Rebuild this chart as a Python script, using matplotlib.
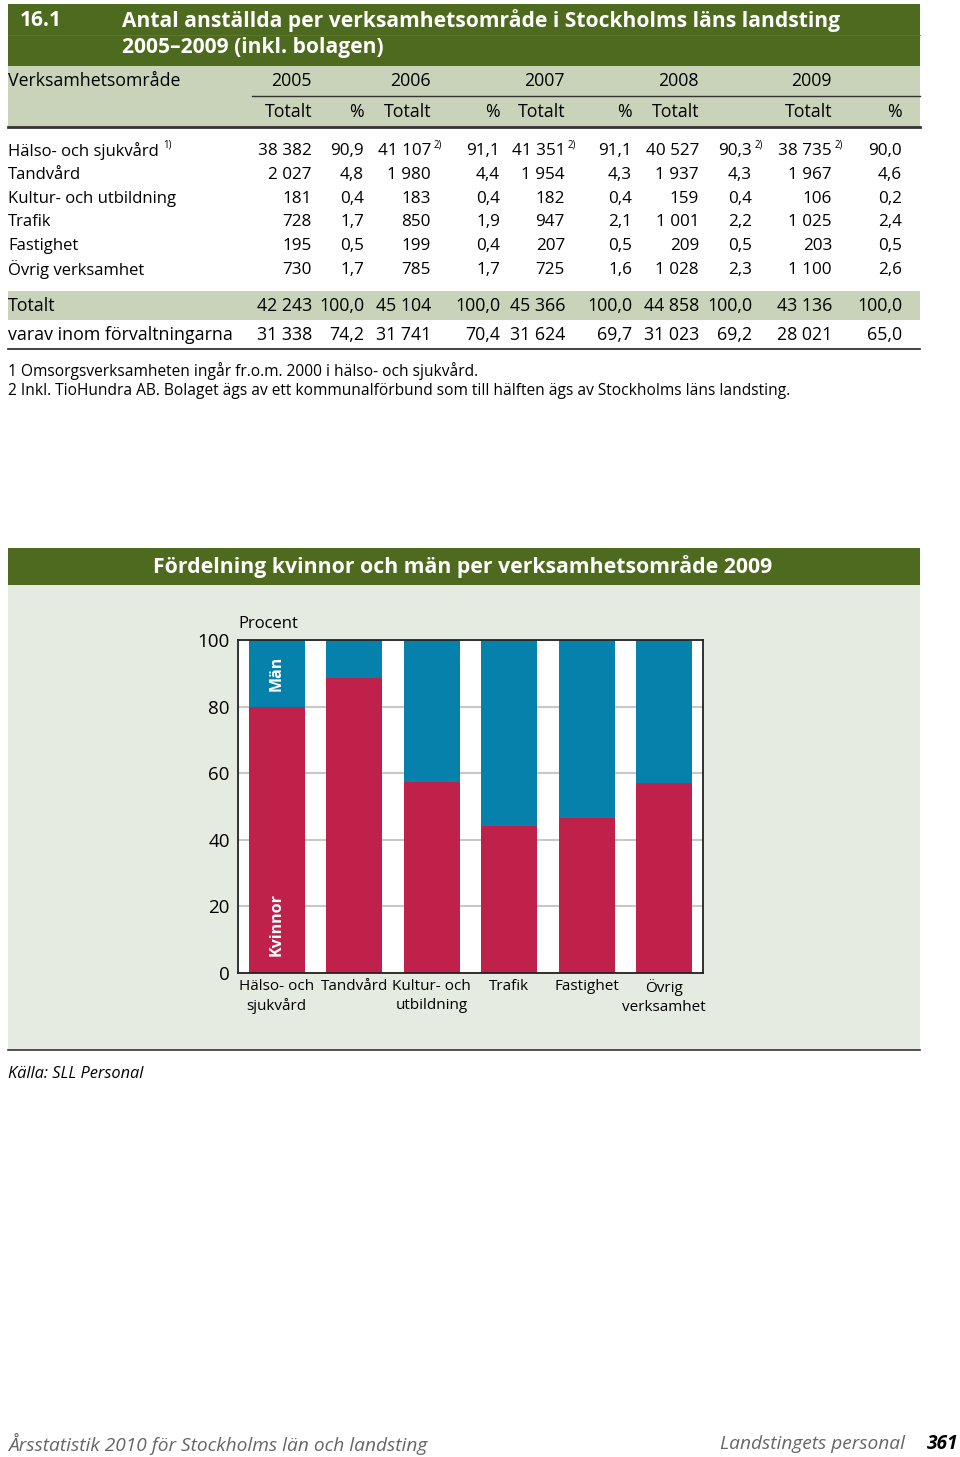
import numpy as np
import matplotlib
matplotlib.use("Agg")
import matplotlib.pyplot as plt
from matplotlib.patches import Rectangle
from matplotlib.lines import Line2D

# Table data
areas = ["Hälso- och sjukvård", "Tandvård", "Kultur- och utbildning",
         "Trafik", "Fastighet", "Övrig verksamhet"]
years = ["2005", "2006", "2007", "2008", "2009"]
tot_2005 = [38382, 2027, 181, 728, 195, 730]
pct_2005 = [90.9, 4.8, 0.4, 1.7, 0.5, 1.7]
tot_2006 = [41107, 1980, 183, 850, 199, 785]
pct_2006 = [91.1, 4.4, 0.4, 1.9, 0.4, 1.7]
tot_2007 = [41351, 1954, 182, 947, 207, 725]
pct_2007 = [91.1, 4.3, 0.4, 2.1, 0.5, 1.6]
tot_2008 = [40527, 1937, 159, 1001, 209, 1028]
pct_2008 = [90.3, 4.3, 0.4, 2.2, 0.5, 2.3]
tot_2009 = [38735, 1967, 106, 1025, 203, 1100]
pct_2009 = [90.0, 4.6, 0.2, 2.4, 0.5, 2.6]
totalt_tot = [42243, 45104, 45366, 44858, 43136]
totalt_pct = [100.0, 100.0, 100.0, 100.0, 100.0]
varav_tot = [31338, 31741, 31624, 31023, 28021]
varav_pct = [74.2, 70.4, 69.7, 69.2, 65.0]

# Chart data (share women, %)
chart_labels = ["Hälso- och\nsjukvård", "Tandvård", "Kultur- och\nutbildning",
                "Trafik", "Fastighet", "Övrig\nverksamhet"]
kvinnor = np.array([80.0, 88.5, 57.5, 44.0, 46.5, 57.0])
man = 100 - kvinnor

W, H = 960, 1457
DARK = "#4e6a1e"
LIGHT = "#c8d3b9"
PANEL = "#e6ebe2"
RED = "#c0214a"
BLUE = "#0581ab"
FONT = ["Open Sans", "DejaVu Sans"]
plt.rcParams["font.family"] = FONT

fig = plt.figure(figsize=(W / 100, H / 100), dpi=100)


def fx(x):
    return x / W


def fy(y):
    return 1 - y / H


def rect(x0, y0, x1, y1, color):
    fig.patches.append(Rectangle((fx(x0), fy(y1)), (x1 - x0) / W, (y1 - y0) / H,
                                 transform=fig.transFigure, color=color,
                                 zorder=-2, lw=0))


def hline(x0, x1, y, lw=1.0, color="black"):
    fig.add_artist(Line2D([fx(x0), fx(x1)], [fy(y), fy(y)],
                          transform=fig.transFigure, lw=lw, color=color))


def txt(x, y, s, ha="left", size=12, **kw):
    fig.text(fx(x), fy(y), s, ha=ha, va="center", fontsize=size, **kw)


def fmt_int(v):
    return f"{v:,}".replace(",", " ")


def fmt_pct(v):
    return f"{v:.1f}".replace(".", ",")


# ---- table header ----
rect(8, 4, 920, 66, DARK)
hline(8, 920, 35, lw=0.6, color="#5e7a2c")
txt(20, 21, "16.1", size=15, color="white", weight="bold")
txt(122, 21, "Antal anställda per verksamhetsområde i Stockholms läns landsting",
    size=15.1, color="white", weight="bold")
txt(122, 48, "2005–2009 (inkl. bolagen)", size=15.1, color="white", weight="bold")

rect(8, 66, 920, 127, LIGHT)
txt(8, 81, "Verksamhetsområde", size=12.8)
hline(252, 920, 96, lw=1.0, color="#333333")
hline(8, 920, 127, lw=2.0, color="#333333")

tot_x = [312, 431, 565, 699, 832]
pct_x = [364, 500, 632, 752, 902]
for yr, xt in zip(years, tot_x):
    txt(xt, 81, yr, ha="right", size=12.8)
for xt in tot_x:
    txt(xt, 112, "Totalt", ha="right", size=12.8)
for i, xp in enumerate(pct_x):
    if i != 3:
        txt(xp, 112, "%", ha="right", size=12.8)

# ---- table body ----
row_y = [151, 175, 199, 222, 246, 270]
tots = [tot_2005, tot_2006, tot_2007, tot_2008, tot_2009]
pcts = [pct_2005, pct_2006, pct_2007, pct_2008, pct_2009]
for r, (name, yy) in enumerate(zip(areas, row_y)):
    txt(8, yy, name, size=12)
    for c in range(5):
        txt(tot_x[c], yy, fmt_int(tots[c][r]), ha="right", size=12.3)
        txt(pct_x[c], yy, fmt_pct(pcts[c][r]), ha="right", size=12.3)

# footnote marks
txt(163, 145, "1)", size=7)
for xs in [tot_x[1], tot_x[2], pct_x[3], tot_x[4]]:
    txt(xs + 3, 145, "2)", size=7)

rect(8, 291, 920, 320, LIGHT)
txt(8, 306, "Totalt", size=12.8)
txt(8, 335, "varav inom förvaltningarna", size=12.8)
for c in range(5):
    txt(tot_x[c], 306, fmt_int(totalt_tot[c]), ha="right", size=12.8)
    txt(pct_x[c], 306, fmt_pct(totalt_pct[c]), ha="right", size=12.8)
    txt(tot_x[c], 335, fmt_int(varav_tot[c]), ha="right", size=12.8)
    txt(pct_x[c], 335, fmt_pct(varav_pct[c]), ha="right", size=12.8)
hline(8, 920, 349, lw=1.2, color="#222222")

txt(8, 371, "1 Omsorgsverksamheten ingår fr.o.m. 2000 i hälso- och sjukvård.", size=11.2)
txt(8, 391, "2 Inkl. TioHundra AB. Bolaget ägs av ett kommunalförbund som till "
    "hälften ägs av Stockholms läns landsting.", size=11.2)

# ---- chart panel ----
rect(8, 548, 920, 1050, PANEL)
rect(8, 548, 920, 585, DARK)
hline(8, 920, 1050, lw=1.2, color="#333333")
txt(463, 567, "Fördelning kvinnor och män per verksamhetsområde 2009",
    ha="center", size=15.3, color="white", weight="bold")

ax = fig.add_axes([fx(238), fy(973), (703 - 238) / W, (973 - 640) / H])
ax.set_zorder(5)
ax.set_facecolor("white")
x = np.arange(len(chart_labels))
ax.bar(x, kvinnor, width=0.72, color=RED, zorder=2)
ax.bar(x, man, width=0.72, bottom=kvinnor, color=BLUE, zorder=2)
ax.set_xlim(-0.5, len(chart_labels) - 0.5)
ax.set_ylim(0, 100)
ax.set_yticks([0, 20, 40, 60, 80, 100])
ax.yaxis.grid(True, color="#c8c8c8", lw=1.5, zorder=1)
ax.set_axisbelow(True)
ax.set_xticks(x)
ax.set_xticklabels(chart_labels, fontsize=11, linespacing=1.4)
for lab in ax.get_yticklabels():
    lab.set_fontsize(13.5)
ax.tick_params(axis="y", length=0, pad=6)
ax.tick_params(axis="x", length=0, pad=4)
for sp in ax.spines.values():
    sp.set_color("#222222")
    sp.set_linewidth(1.3)

ax.text(x[0], 90, "Män", rotation=90, ha="center", va="center", color="white",
        weight="bold", fontsize=11.5)
ax.text(x[0], 14.5, "Kvinnor", rotation=90, ha="center", va="center",
        color="white", weight="bold", fontsize=11.5)
ax.text(0, 1.025, "Procent", transform=ax.transAxes, ha="left", va="bottom",
        fontsize=12)

txt(8, 1074, "Källa: SLL Personal", size=11.8, style="italic")

# ---- page footer ----
txt(8, 1444, "Årsstatistik 2010 för Stockholms län och landsting", size=13.8,
    style="italic", color="#666666")
txt(905, 1444, "Landstingets personal", ha="right", size=13.8, style="italic",
    color="#666666")
txt(958, 1444, "361", ha="right", size=13.8, style="italic", weight="bold")

fig.savefig("out.png", dpi=100)
